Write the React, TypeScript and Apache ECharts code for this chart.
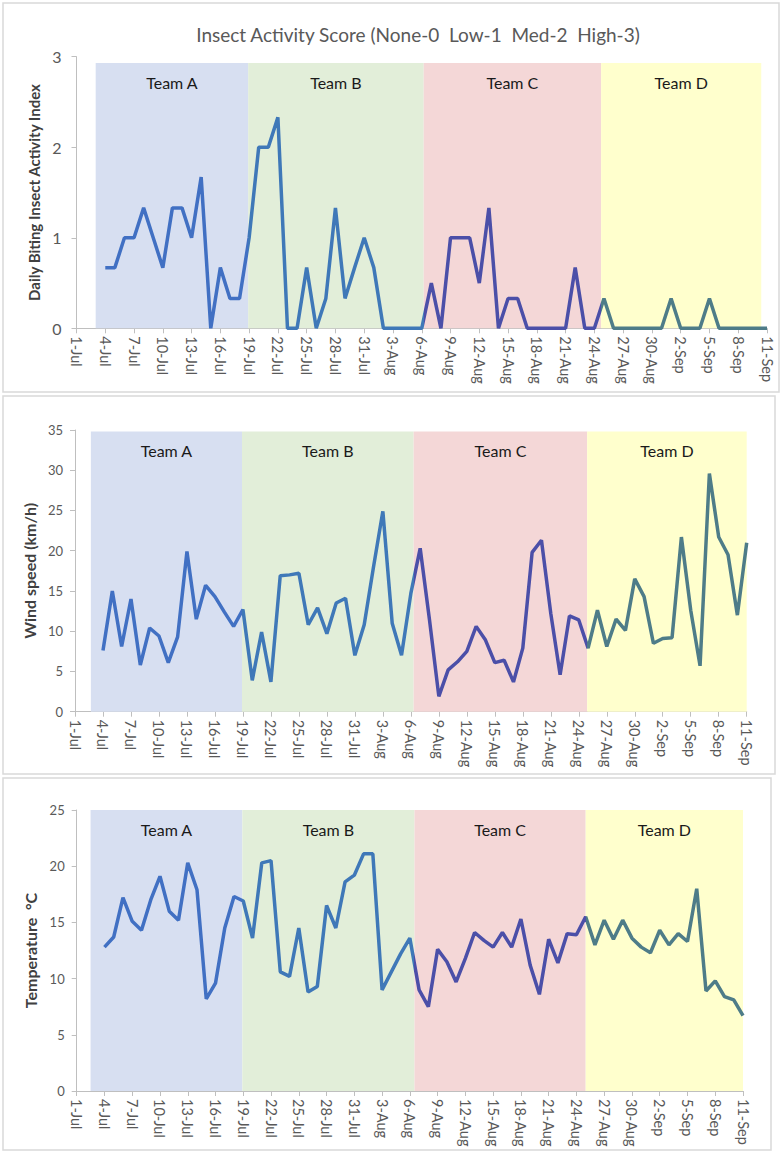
import { useEffect, useRef } from "react";
import * as echarts from "echarts";

// x positions are days counted from 1-Jul (0) to 11-Sep (72)
const tickLabels = [
  "1-Jul", "4-Jul", "7-Jul", "10-Jul", "13-Jul", "16-Jul", "19-Jul", "22-Jul", "25-Jul", "28-Jul", "31-Jul",
  "3-Aug", "6-Aug", "9-Aug", "12-Aug", "15-Aug", "18-Aug", "21-Aug", "24-Aug", "27-Aug", "30-Aug",
  "2-Sep", "5-Sep", "8-Sep", "11-Sep",
];
const firstDay = 3; // 4-Jul

const activity = [
  0.67, 0.67, 1, 1, 1.33, 1, 0.67, 1.33, 1.33, 1, 1.67, 0, 0.67, 0.33, 0.33, 1, 2, 2, 2.33, 0, 0, 0.67, 0, 0.33, 1.33, 0.33, 0.67, 1,
  0.67, 0, 0, 0, 0, 0, 0.5, 0, 1, 1, 1, 0.5, 1.33, 0, 0.33, 0.33, 0, 0, 0, 0, 0, 0.67, 0, 0, 0.33, 0, 0, 0, 0, 0, 0,
  0.33, 0, 0, 0, 0.33, 0, 0, 0, 0, 0, 0,
];
const wind = [
  7.6, 15.0, 8.1, 14.0, 5.8, 10.4, 9.4, 6.1, 9.3, 19.9, 11.5, 15.7, 14.3, 12.4, 10.6, 12.7, 3.9, 9.9, 3.7, 16.9, 17.0, 17.2, 10.8, 12.9, 9.7, 13.5, 14.1, 7.0,
  10.8, 18.0, 24.9, 11.0, 7.0, 14.7, 20.3, 11.4, 1.9, 5.2, 6.2, 7.5, 10.6, 8.9, 6.1, 6.4, 3.7, 7.9, 19.8, 21.3, 12.2, 4.6, 11.9, 11.4, 7.9, 12.6, 8.1, 11.5, 10.1, 16.5, 14.3,
  8.5, 9.1, 9.2, 21.7, 12.6, 5.7, 29.6, 21.7, 19.5, 12.0, 21.0,
];
const temperature = [
  12.8, 13.7, 17.2, 15.1, 14.3, 17.0, 19.1, 16.0, 15.2, 20.3, 17.9, 8.2, 9.6, 14.5, 17.3, 16.9, 13.6, 20.3, 20.5, 10.6, 10.2, 14.5, 8.8, 9.3, 16.5, 14.5, 18.6, 19.2,
  21.1, 21.1, 9.0, 10.6, 12.2, 13.6, 9.0, 7.5, 12.6, 11.5, 9.7, 11.8, 14.1, 13.4, 12.8, 14.1, 12.8, 15.3, 11.2, 8.6, 13.5, 11.4, 14.0, 13.9, 15.5, 13.0, 15.2, 13.5, 15.2, 13.6, 12.8,
  12.3, 14.3, 13.0, 14.0, 13.3, 18.0, 8.9, 9.8, 8.4, 8.1, 6.7,
];

const teams = ["Team A", "Team B", "Team C", "Team D"];
// band edges (in days) for each panel
const bandEdges = [
  [2.0, 17.9, 36.2, 54.7, 71.4],
  [1.7, 17.9, 36.3, 54.9, 72],
  [1.5, 17.9, 36.5, 55.0, 72],
];
const bandTops = [2.93, 34.8, 25];

const yNames = ["Daily Biting Insect Activity Index", "Wind speed (km/h)", "Temperature  \u00b0C"];
const yMax = [3, 35, 25];
const yStep = [1, 5, 5];
const titleText = "Insect Activity Score (None-0  Low-1  Med-2  High-3)";

const bandColors = ["#D7DFF1", "#E2EED9", "#F4D7D7", "#FFFFCD"];
const lineColors = ["#4170C3", "#3F78B8", "#4B4FA8", "#4E7C88"];
const FONT = "Lato, 'Open Sans', sans-serif";

const grids = [
  { left: 76.5, top: 56.7, width: 690.5, height: 271.6 },
  { left: 75, top: 430, width: 671.7, height: 281.7 },
  { left: 76.7, top: 810, width: 666.3, height: 281 },
];
const yLabelSize = [16, 13, 13];
const yLabelMargin = [15, 12, 12];
const nameGaps = [34, 37, 38];
const nameSizes = [15, 16, 16];

export default function App() {
  const ref = useRef<HTMLDivElement>(null);
  useEffect(() => {
    if (!ref.current) return;
    const chart = echarts.init(ref.current, undefined, { renderer: "svg" });
    const seriesValues = [activity, wind, temperature];

    const xAxis = grids.map((_, i) => ({
      type: "value",
      gridIndex: i,
      min: 0,
      max: 72,
      interval: 3,
      axisLine: { show: true, lineStyle: { color: "#BFBFBF", width: 1 } },
      axisTick: { show: true, length: 5, lineStyle: { color: "#BFBFBF" } },
      splitLine: { show: false },
      axisLabel: {
        rotate: -90,
        fontSize: 14.5,
        color: "#595959",
        fontFamily: FONT,
        margin: 8,
        formatter: (v: number) => tickLabels[Math.round(v / 3)] ?? "",
      },
    }));
    const yAxis = grids.map((_, i) => ({
      type: "value",
      gridIndex: i,
      min: 0,
      max: yMax[i],
      interval: yStep[i],
      axisLine: { show: true, lineStyle: { color: "#BFBFBF", width: 1 } },
      axisTick: { show: true, length: 5, lineStyle: { color: "#BFBFBF" } },
      splitLine: { show: false },
      axisLabel: { fontSize: yLabelSize[i], color: "#595959", fontFamily: FONT, margin: yLabelMargin[i] },
      name: yNames[i],
      nameLocation: "middle",
      nameGap: nameGaps[i],
      nameTextStyle: { fontSize: nameSizes[i], fontWeight: "bold", color: "#404040", fontFamily: FONT },
    }));

    const series: any[] = [];
    grids.forEach((_, i) => {
      const edges = bandEdges[i];
      const bandData = teams.map((_, k) => [edges[k], edges[k + 1], bandTops[i], k]);
      series.push({
        type: "custom",
        xAxisIndex: i,
        yAxisIndex: i,
        z: 1,
        silent: true,
        data: bandData,
        encode: { x: [0, 1], y: 2 },
        renderItem: (_p: any, api: any) => {
          const x0 = api.value(0);
          const x1 = api.value(1);
          const top = api.value(2);
          const k = api.value(3);
          const p0 = api.coord([x0, top]);
          const p1 = api.coord([x1, 0]);
          return {
            type: "group",
            children: [
              {
                type: "rect",
                shape: { x: p0[0], y: p0[1], width: p1[0] - p0[0], height: p1[1] - p0[1] },
                style: { fill: bandColors[k] },
              },
              {
                type: "text",
                x: (p0[0] + p1[0]) / 2,
                y: p0[1] + 19,
                style: {
                  text: teams[k],
                  fill: "#1A1A1A",
                  fontSize: 16,
                  fontFamily: FONT,
                  align: "center",
                  verticalAlign: "middle",
                },
              },
            ],
          };
        },
      });
      series.push({
        type: "line",
        xAxisIndex: i,
        yAxisIndex: i,
        z: 3,
        showSymbol: false,
        symbol: "none",
        lineStyle: { width: 3.5 },
        data: seriesValues[i].map((v, k) => [k + firstDay, v]),
      });
    });

    const visualMap = grids.map((_, i) => ({
      type: "piecewise",
      show: false,
      dimension: 0,
      seriesIndex: i * 2 + 1,
      pieces: [
        { lt: bandEdges[i][1], color: lineColors[0] },
        { gte: bandEdges[i][1], lt: bandEdges[i][2], color: lineColors[1] },
        { gte: bandEdges[i][2], lt: bandEdges[i][3], color: lineColors[2] },
        { gte: bandEdges[i][3], color: lineColors[3] },
      ],
    }));

    chart.setOption({
      animation: false,
      backgroundColor: "#FFFFFF",
      title: {
        text: titleText,
        left: 413,
        top: 20,
        textAlign: "center",
        textStyle: { fontSize: 19, fontWeight: "normal", color: "#595959", fontFamily: FONT },
      },
      grid: grids.map((g) => ({ ...g, containLabel: false, outerBoundsMode: "none" })),
      xAxis,
      yAxis,
      visualMap,
      series,
      graphic: [
        { type: "rect", shape: { x: 3, y: 3, width: 776, height: 389 }, style: { fill: "none", stroke: "#D9D9D9", lineWidth: 1.5 }, silent: true },
        { type: "rect", shape: { x: 3, y: 396, width: 772, height: 378 }, style: { fill: "none", stroke: "#D9D9D9", lineWidth: 1.5 }, silent: true },
        { type: "rect", shape: { x: 3, y: 778, width: 768, height: 372 }, style: { fill: "none", stroke: "#D9D9D9", lineWidth: 1.5 }, silent: true },
      ],
    });
    return () => chart.dispose();
  }, []);
  return <div ref={ref} style={{ position: "absolute", left: 0, top: 0, width: 780, height: 1152 }} />;
}
